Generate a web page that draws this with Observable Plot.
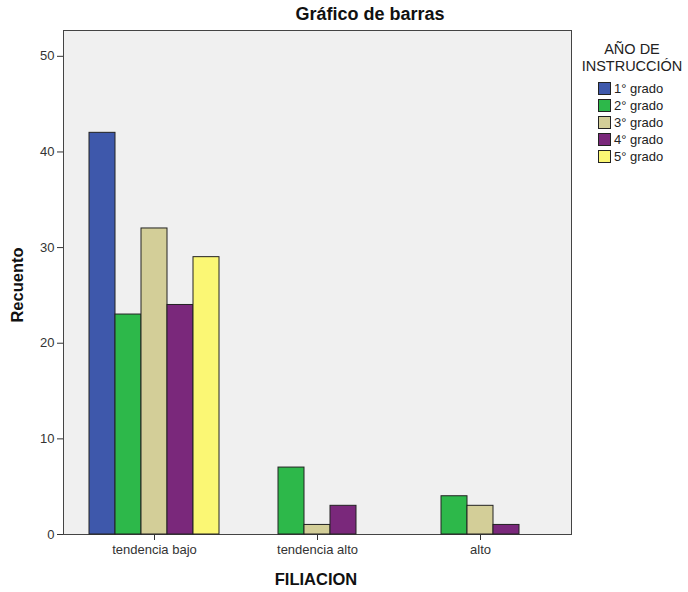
<!DOCTYPE html>
<html><head><meta charset="utf-8">
<script src="https://cdn.jsdelivr.net/npm/d3@7"></script>
<script src="https://cdn.jsdelivr.net/npm/@observablehq/plot@0.6"></script>
<style>
body{margin:0;background:#fff;font-family:"Liberation Sans",Arial,sans-serif;color:#222;}
#wrap{position:relative;width:688px;height:592px;overflow:hidden;}
#chart{position:absolute;left:0;top:0;}
.t{position:absolute;white-space:nowrap;}
#title{left:370px;top:4px;transform:translateX(-50%);font-weight:bold;font-size:18px;color:#111;}
#ylab{left:17px;top:285px;transform:translate(-50%,-50%) rotate(-90deg);font-weight:bold;font-size:16.5px;color:#111;}
#xlab{left:316px;top:570px;transform:translateX(-50%);font-weight:bold;font-size:16.5px;color:#111;}
#legend{position:absolute;left:576px;top:41px;width:112px;}
#legtitle{text-align:center;font-size:14.5px;line-height:17px;color:#222;margin-bottom:5px;}
.item{display:flex;align-items:center;height:17px;font-size:13px;margin-left:22px;}
.sw{width:11px;height:11px;border:1px solid #222;margin-right:3px;}
</style>
</head><body>
<div id="wrap">
  <div id="chart"></div>
  <div class="t" id="title">Gráfico de barras</div>
  <div class="t" id="ylab">Recuento</div>
  <div class="t" id="xlab">FILIACION</div>
  <div id="legend"><div id="legtitle">AÑO DE<br>INSTRUCCIÓN</div><div id="items"></div></div>
</div>
<script>
const filiacion = ["tendencia bajo", "tendencia alto", "alto"];
const grados = ["1° grado", "2° grado", "3° grado", "4° grado", "5° grado"];
const colores = ["#3e58ab", "#2db84a", "#d3ce98", "#7a287b", "#fbf774"];
const grado1 = [42, 0, 0];
const grado2 = [23, 7, 4];
const grado3 = [32, 1, 3];
const grado4 = [24, 3, 1];
const grado5 = [29, 0, 0];
const yTicks = [0, 10, 20, 30, 40, 50];

const series = [grado1, grado2, grado3, grado4, grado5];
const data = [];
series.forEach((vals, gi) => vals.forEach((v, fi) => {
  if (v > 0) data.push({filiacion: filiacion[fi], grado: grados[gi], n: v});
}));

const pIn = 0.205, pOut = 0.159;
const plotW = 688 - 62 - 117;
const outer = pOut * plotW / (filiacion.length - pIn + 2 * pOut);

const chart = Plot.plot({
  width: 688,
  height: 592,
  marginTop: 30,
  marginBottom: 58,
  marginLeft: 62,
  marginRight: 117,
  style: {fontFamily: "Liberation Sans, Arial, sans-serif", fontSize: "13px", color: "#333", background: "transparent"},
  fx: {domain: filiacion, label: null, paddingInner: pIn, paddingOuter: pOut, tickSize: 6, tickPadding: 4, axis: "bottom"},
  x: {domain: grados, axis: null, padding: 0},
  y: {domain: [0, 52.7], axis: null},
  color: {domain: grados, range: colores},
  marks: [
    Plot.frame({facet: "super", fill: "#f0f0f0", stroke: "#444", insetLeft: -outer, insetRight: -outer}),
    Plot.axisY({ticks: yTicks, tickSize: 6, tickPadding: 3, label: null, dx: -outer, stroke: "#333"}),
    Plot.barY(data, {fx: "filiacion", x: "grado", y: "n", fill: "grado", stroke: "#222", strokeWidth: 1})
  ]
});
document.getElementById("chart").appendChild(chart);

const items = document.getElementById("items");
grados.forEach((g, i) => {
  const d = document.createElement("div");
  d.className = "item";
  d.innerHTML = `<span class="sw" style="background:${colores[i]}"></span><span>${g}</span>`;
  items.appendChild(d);
});
</script>
</body></html>
